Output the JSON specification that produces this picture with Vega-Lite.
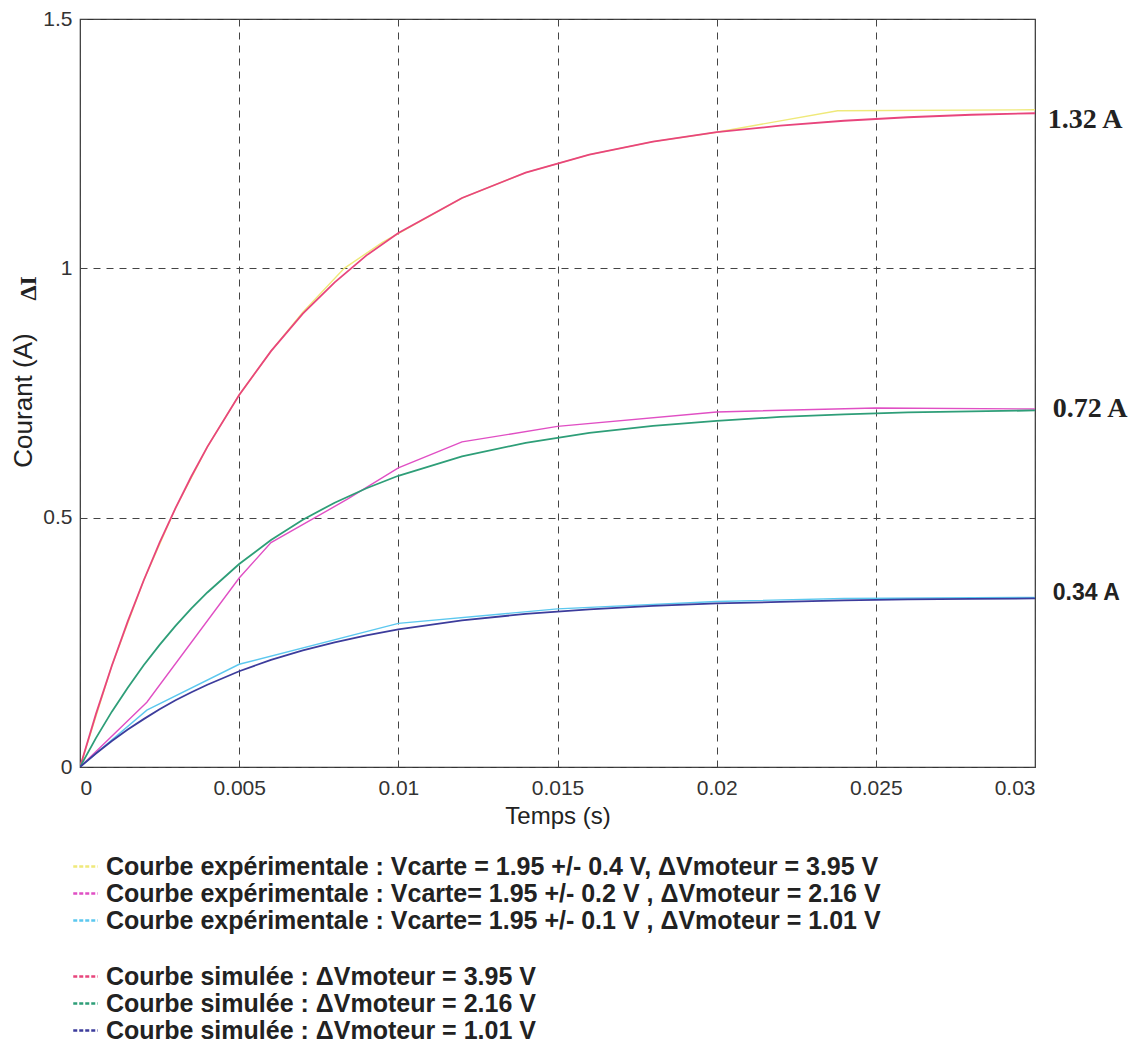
{
  "$schema": "https://vega.github.io/schema/vega-lite/v6.json",
  "autosize": "none",
  "width": 955,
  "height": 748,
  "padding": {"left": 80, "top": 19, "right": 104, "bottom": 288},
  "background": "white",
  "config": {
    "view": {"stroke": "#333", "strokeWidth": 1.2},
    "axis": {
      "labelFont": "Liberation Sans", "labelFontSize": 21, "labelColor": "#333",
      "titleFont": "Liberation Sans", "titleFontWeight": "normal", "titleColor": "#222",
      "domain": false, "ticks": false,
      "grid": true, "gridColor": "#444", "gridDash": [7, 6], "gridWidth": 1, "gridOpacity": 1
    },
    "legend": {
      "labelFont": "Liberation Sans", "labelFontSize": 25, "labelFontWeight": "bold", "labelColor": "#222",
      "labelLimit": 1200, "symbolType": "stroke", "symbolStrokeWidth": 2.5, "symbolDash": [4, 2],
      "symbolSize": 600, "rowPadding": -1, "labelOffset": 7, "padding": 0, "title": null
    }
  },
  "layer": [
    {
      "data": {"values": [
        {"s": "e1", "t": 0, "i": 0}, {"s": "e1", "t": 0.001, "i": 0.203}, {"s": "e1", "t": 0.002, "i": 0.374},
        {"s": "e1", "t": 0.003, "i": 0.519}, {"s": "e1", "t": 0.004, "i": 0.642}, {"s": "e1", "t": 0.005, "i": 0.746},
        {"s": "e1", "t": 0.006, "i": 0.834}, {"s": "e1", "t": 0.007, "i": 0.912}, {"s": "e1", "t": 0.0083, "i": 1.0},
        {"s": "e1", "t": 0.0095, "i": 1.052}, {"s": "e1", "t": 0.012, "i": 1.141}, {"s": "e1", "t": 0.014, "i": 1.192},
        {"s": "e1", "t": 0.016, "i": 1.228}, {"s": "e1", "t": 0.018, "i": 1.254}, {"s": "e1", "t": 0.02, "i": 1.273},
        {"s": "e1", "t": 0.0238, "i": 1.316}, {"s": "e1", "t": 0.03, "i": 1.318},
        {"s": "e2", "t": 0, "i": 0}, {"s": "e2", "t": 0.0021, "i": 0.13}, {"s": "e2", "t": 0.005, "i": 0.379},
        {"s": "e2", "t": 0.006, "i": 0.45}, {"s": "e2", "t": 0.0084, "i": 0.537}, {"s": "e2", "t": 0.01, "i": 0.6},
        {"s": "e2", "t": 0.012, "i": 0.652}, {"s": "e2", "t": 0.015, "i": 0.683}, {"s": "e2", "t": 0.02, "i": 0.712},
        {"s": "e2", "t": 0.025, "i": 0.72}, {"s": "e2", "t": 0.03, "i": 0.718},
        {"s": "e3", "t": 0, "i": 0}, {"s": "e3", "t": 0.0021, "i": 0.114}, {"s": "e3", "t": 0.005, "i": 0.206},
        {"s": "e3", "t": 0.01, "i": 0.288}, {"s": "e3", "t": 0.015, "i": 0.317}, {"s": "e3", "t": 0.02, "i": 0.332},
        {"s": "e3", "t": 0.024, "i": 0.338}, {"s": "e3", "t": 0.03, "i": 0.34}
      ]},
      "mark": {"type": "line", "strokeWidth": 1.4, "clip": true},
      "encoding": {
        "x": {"field": "t", "type": "quantitative", "scale": {"domain": [0, 0.03], "nice": false},
              "axis": {"values": [0, 0.005, 0.01, 0.015, 0.02, 0.025, 0.03], "format": "~g", "title": "Temps (s)", "titleFontSize": 24, "labelPadding": 10, "titlePadding": 6}},
        "y": {"field": "i", "type": "quantitative", "scale": {"domain": [0, 1.5], "nice": false},
              "axis": {"values": [0, 0.5, 1, 1.5], "format": "~g", "title": "Courant (A)", "titleFontSize": 26, "titleY": 381, "labelPadding": 8, "titlePadding": 6}},
        "color": {"field": "s", "type": "nominal",
                  "scale": {"domain": ["e1", "e2", "e3"], "range": ["#efe97a", "#e04fc4", "#5cc8ef"]},
                  "legend": {"orient": "none", "legendX": -8, "legendY": 834,
                             "labelExpr": "{'e1': 'Courbe expérimentale : Vcarte = 1.95 +/- 0.4 V, ΔVmoteur = 3.95 V', 'e2': 'Courbe expérimentale : Vcarte= 1.95 +/- 0.2 V , ΔVmoteur = 2.16 V', 'e3': 'Courbe expérimentale : Vcarte= 1.95 +/- 0.1 V , ΔVmoteur = 1.01 V'}[datum.label]"}},
        "order": {"field": "t", "type": "quantitative"}
      }
    },
    {
      "data": {"values": [
        {"s": "s1", "t": 0, "i": 0}, {"s": "s1", "t": 0.0005, "i": 0.106}, {"s": "s1", "t": 0.001, "i": 0.203},
        {"s": "s1", "t": 0.0015, "i": 0.292}, {"s": "s1", "t": 0.002, "i": 0.374}, {"s": "s1", "t": 0.0025, "i": 0.45},
        {"s": "s1", "t": 0.003, "i": 0.519}, {"s": "s1", "t": 0.0035, "i": 0.583}, {"s": "s1", "t": 0.004, "i": 0.642},
        {"s": "s1", "t": 0.005, "i": 0.746}, {"s": "s1", "t": 0.006, "i": 0.834}, {"s": "s1", "t": 0.007, "i": 0.909},
        {"s": "s1", "t": 0.008, "i": 0.972}, {"s": "s1", "t": 0.009, "i": 1.026}, {"s": "s1", "t": 0.01, "i": 1.071},
        {"s": "s1", "t": 0.012, "i": 1.141}, {"s": "s1", "t": 0.014, "i": 1.192}, {"s": "s1", "t": 0.016, "i": 1.228},
        {"s": "s1", "t": 0.018, "i": 1.254}, {"s": "s1", "t": 0.02, "i": 1.273}, {"s": "s1", "t": 0.022, "i": 1.286},
        {"s": "s1", "t": 0.024, "i": 1.296}, {"s": "s1", "t": 0.026, "i": 1.303}, {"s": "s1", "t": 0.028, "i": 1.308},
        {"s": "s1", "t": 0.03, "i": 1.311},
        {"s": "s2", "t": 0, "i": 0}, {"s": "s2", "t": 0.0005, "i": 0.058}, {"s": "s2", "t": 0.001, "i": 0.111},
        {"s": "s2", "t": 0.0015, "i": 0.159}, {"s": "s2", "t": 0.002, "i": 0.204}, {"s": "s2", "t": 0.0025, "i": 0.245},
        {"s": "s2", "t": 0.003, "i": 0.283}, {"s": "s2", "t": 0.0035, "i": 0.318}, {"s": "s2", "t": 0.004, "i": 0.35},
        {"s": "s2", "t": 0.005, "i": 0.407}, {"s": "s2", "t": 0.006, "i": 0.455}, {"s": "s2", "t": 0.007, "i": 0.496},
        {"s": "s2", "t": 0.008, "i": 0.53}, {"s": "s2", "t": 0.009, "i": 0.559}, {"s": "s2", "t": 0.01, "i": 0.584},
        {"s": "s2", "t": 0.012, "i": 0.623}, {"s": "s2", "t": 0.014, "i": 0.65}, {"s": "s2", "t": 0.016, "i": 0.67},
        {"s": "s2", "t": 0.018, "i": 0.684}, {"s": "s2", "t": 0.02, "i": 0.694}, {"s": "s2", "t": 0.022, "i": 0.702},
        {"s": "s2", "t": 0.024, "i": 0.707}, {"s": "s2", "t": 0.026, "i": 0.711}, {"s": "s2", "t": 0.028, "i": 0.713},
        {"s": "s2", "t": 0.03, "i": 0.715},
        {"s": "s3", "t": 0, "i": 0}, {"s": "s3", "t": 0.0005, "i": 0.027}, {"s": "s3", "t": 0.001, "i": 0.052},
        {"s": "s3", "t": 0.0015, "i": 0.075}, {"s": "s3", "t": 0.002, "i": 0.096}, {"s": "s3", "t": 0.0025, "i": 0.116},
        {"s": "s3", "t": 0.003, "i": 0.134}, {"s": "s3", "t": 0.0035, "i": 0.15}, {"s": "s3", "t": 0.004, "i": 0.165},
        {"s": "s3", "t": 0.005, "i": 0.192}, {"s": "s3", "t": 0.006, "i": 0.215}, {"s": "s3", "t": 0.007, "i": 0.234},
        {"s": "s3", "t": 0.008, "i": 0.25}, {"s": "s3", "t": 0.009, "i": 0.264}, {"s": "s3", "t": 0.01, "i": 0.276},
        {"s": "s3", "t": 0.012, "i": 0.294}, {"s": "s3", "t": 0.014, "i": 0.307}, {"s": "s3", "t": 0.016, "i": 0.316},
        {"s": "s3", "t": 0.018, "i": 0.323}, {"s": "s3", "t": 0.02, "i": 0.328}, {"s": "s3", "t": 0.022, "i": 0.331},
        {"s": "s3", "t": 0.024, "i": 0.334}, {"s": "s3", "t": 0.026, "i": 0.336}, {"s": "s3", "t": 0.028, "i": 0.337},
        {"s": "s3", "t": 0.03, "i": 0.338}
      ]},
      "mark": {"type": "line", "strokeWidth": 1.8, "clip": true},
      "encoding": {
        "x": {"field": "t", "type": "quantitative"},
        "y": {"field": "i", "type": "quantitative"},
        "color": {"field": "s", "type": "nominal",
                  "scale": {"domain": ["s1", "s2", "s3"], "range": ["#e8457c", "#2e9e78", "#3c3c9c"]},
                  "legend": {"orient": "none", "legendX": -8, "legendY": 944,
                             "labelExpr": "{'s1': 'Courbe simulée : ΔVmoteur = 3.95 V', 's2': 'Courbe simulée : ΔVmoteur = 2.16 V', 's3': 'Courbe simulée : ΔVmoteur = 1.01 V'}[datum.label]"}},
        "order": {"field": "t", "type": "quantitative"}
      }
    },
    {
      "data": {"values": [
        {"t": 0.0304, "i": 1.297, "txt": "1.32 A"},
        {"t": 0.03056, "i": 0.717, "txt": "0.72 A"}
      ]},
      "mark": {"type": "text", "font": "Liberation Serif", "fontWeight": "bold", "fontSize": 28, "align": "left", "baseline": "middle", "color": "#222"},
      "encoding": {
        "x": {"field": "t", "type": "quantitative"},
        "y": {"field": "i", "type": "quantitative"},
        "text": {"field": "txt"}
      }
    },
    {
      "data": {"values": [{"t": 0.03056, "i": 0.349, "txt": "0.34 A"}]},
      "mark": {"type": "text", "font": "Liberation Sans", "fontWeight": "bold", "fontSize": 23, "align": "left", "baseline": "middle", "color": "#222"},
      "encoding": {
        "x": {"field": "t", "type": "quantitative"},
        "y": {"field": "i", "type": "quantitative"},
        "text": {"field": "txt"}
      }
    },
    {
      "data": {"values": [{"t": -0.0016, "i": 0.96, "txt": "ΔI"}]},
      "mark": {"type": "text", "font": "Liberation Serif", "fontWeight": "bold", "fontSize": 24, "angle": 270, "align": "center", "baseline": "middle", "color": "#222"},
      "encoding": {
        "x": {"field": "t", "type": "quantitative"},
        "y": {"field": "i", "type": "quantitative"},
        "text": {"field": "txt"}
      }
    }
  ],
  "resolve": {"scale": {"color": "independent"}, "legend": {"color": "independent"}}
}
